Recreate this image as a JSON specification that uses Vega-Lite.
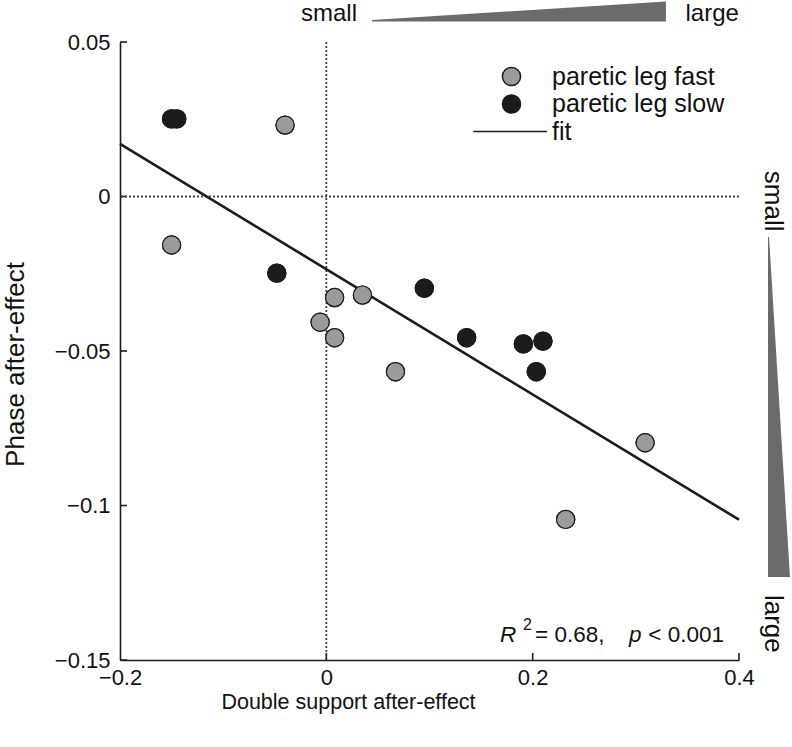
{
  "$schema": "https://vega.github.io/schema/vega-lite/v6.json",
  "width": 619,
  "height": 618,
  "autosize": {"type": "none"},
  "padding": {"left": 120, "top": 42, "right": 53, "bottom": 87},
  "background": "white",
  "data": {"values": [{}]},
  "config": {
    "view": {"stroke": null},
    "font": "Liberation Sans",
    "text": {"font": "Liberation Sans", "color": "#111111"}
  },
  "datasets": {
    "points": [
      {"ds": -0.150, "phase": -0.0157, "group": "paretic leg fast"},
      {"ds": -0.040, "phase": 0.0231, "group": "paretic leg fast"},
      {"ds": 0.008, "phase": -0.0327, "group": "paretic leg fast"},
      {"ds": -0.006, "phase": -0.0407, "group": "paretic leg fast"},
      {"ds": 0.008, "phase": -0.0457, "group": "paretic leg fast"},
      {"ds": 0.035, "phase": -0.0319, "group": "paretic leg fast"},
      {"ds": 0.067, "phase": -0.0567, "group": "paretic leg fast"},
      {"ds": 0.309, "phase": -0.0797, "group": "paretic leg fast"},
      {"ds": 0.232, "phase": -0.1045, "group": "paretic leg fast"},
      {"ds": -0.150, "phase": 0.0251, "group": "paretic leg slow"},
      {"ds": -0.145, "phase": 0.0251, "group": "paretic leg slow"},
      {"ds": -0.048, "phase": -0.0248, "group": "paretic leg slow"},
      {"ds": 0.095, "phase": -0.0297, "group": "paretic leg slow"},
      {"ds": 0.136, "phase": -0.0457, "group": "paretic leg slow"},
      {"ds": 0.191, "phase": -0.0477, "group": "paretic leg slow"},
      {"ds": 0.210, "phase": -0.0468, "group": "paretic leg slow"},
      {"ds": 0.2035, "phase": -0.0567, "group": "paretic leg slow"}
    ],
    "fit": [
      {"ds": -0.2, "phase": 0.0170},
      {"ds": 0.4, "phase": -0.1046}
    ],
    "wedgeTop": [
      {"ds": 0.0443, "low": 0.0566, "high": 0.0571},
      {"ds": 0.3292, "low": 0.0566, "high": 0.0631}
    ],
    "wedgeRight": [
      {"phase": -0.0131, "left": 0.4281, "right": 0.4291},
      {"phase": -0.1231, "left": 0.4281, "right": 0.4494}
    ],
    "yTicks": [{"t": 0.05}, {"t": 0}, {"t": -0.05}, {"t": -0.1}, {"t": -0.15}],
    "xTicks": [{"t": 0}, {"t": 0.2}, {"t": 0.4}]
  },
  "layer": [
    {
      "data": {"name": "points"},
      "mark": {"type": "point", "filled": true, "size": 330, "stroke": "#1c1c1c", "strokeWidth": 1.2, "opacity": 1},
      "encoding": {
        "x": {
          "field": "ds", "type": "quantitative",
          "scale": {"domain": [-0.2, 0.4], "nice": false, "zero": false},
          "axis": {
            "values": [-0.2, 0, 0.2, 0.4], "format": "~g", "grid": false, "ticks": false,
            "domainColor": "#1c1c1c", "domainWidth": 1.6,
            "labelFont": "Liberation Sans", "labelFontSize": 22, "labelColor": "#111111", "labelPadding": 7, "labelFlush": false,
            "title": "Double support after-effect", "titleFont": "Liberation Sans", "titleFontSize": 21.5, "titleFontWeight": "normal", "titleColor": "#111111",
            "titleX": 228, "titleY": 31, "titleBaseline": "top", "titleAlign": "center"
          }
        },
        "y": {
          "field": "phase", "type": "quantitative",
          "scale": {"domain": [-0.15, 0.05], "nice": false, "zero": false},
          "axis": {
            "values": [0.05, 0, -0.05, -0.1, -0.15], "format": "~g", "grid": false, "ticks": false,
            "domainColor": "#1c1c1c", "domainWidth": 1.6,
            "labelFont": "Liberation Sans", "labelFontSize": 22, "labelColor": "#111111", "labelPadding": 10, "labelFlush": false,
            "title": "Phase after-effect", "titleFont": "Liberation Sans", "titleFontSize": 26, "titleFontWeight": "normal", "titleColor": "#111111",
            "titleX": -118, "titleY": 322, "titleBaseline": "top", "titleAlign": "center", "titleAngle": -90
          }
        },
        "fill": {
          "field": "group", "type": "nominal",
          "scale": {"domain": ["paretic leg fast", "paretic leg slow", "fit"], "range": ["#9b9b9b", "#1c1c1c", "#1c1c1c"]},
          "legend": {
            "title": null, "orient": "none", "legendX": 379, "legendY": 22, "padding": 0,
            "symbolSize": 330, "labelFont": "Liberation Sans", "labelFontSize": 25, "labelColor": "#111111",
            "labelOffset": 28, "rowPadding": 1.5, "labelLimit": 400,
            "encode": {"symbols": {
              "stroke": {"value": "#1c1c1c"},
              "strokeWidth": {"condition": {"test": "datum.value === 'fit'", "value": 2.6}, "value": 1.2}
            }}
          }
        },
        "shape": {
          "field": "group", "type": "nominal",
          "scale": {"domain": ["paretic leg fast", "paretic leg slow", "fit"], "range": ["circle", "circle", "M-4.2,0H3.9"]},
          "legend": {
            "title": null, "orient": "none", "legendX": 379, "legendY": 22, "padding": 0,
            "symbolSize": 330, "labelFont": "Liberation Sans", "labelFontSize": 25, "labelColor": "#111111",
            "labelOffset": 28, "rowPadding": 1.5, "labelLimit": 400,
            "encode": {"symbols": {
              "stroke": {"value": "#1c1c1c"},
              "strokeWidth": {"condition": {"test": "datum.value === 'fit'", "value": 2.6}, "value": 1.2}
            }}
          }
        }
      }
    },
    {
      "data": {"name": "yTicks"},
      "mark": {"type": "rule", "color": "#1c1c1c", "strokeWidth": 1.6},
      "encoding": {
        "y": {"field": "t", "type": "quantitative"},
        "x": {"datum": -0.2, "type": "quantitative"},
        "x2": {"datum": -0.1932}
      }
    },
    {
      "data": {"name": "xTicks"},
      "mark": {"type": "rule", "color": "#1c1c1c", "strokeWidth": 1.6},
      "encoding": {
        "x": {"field": "t", "type": "quantitative"},
        "y": {"datum": -0.15, "type": "quantitative"},
        "y2": {"datum": -0.14773}
      }
    },
    {
      "mark": {"type": "rule", "color": "#444444", "strokeWidth": 1.8, "strokeDash": [2, 2]},
      "encoding": {
        "x": {"datum": 0, "type": "quantitative"}
      }
    },
    {
      "mark": {"type": "rule", "color": "#444444", "strokeWidth": 1.8, "strokeDash": [2, 2]},
      "encoding": {
        "y": {"datum": 0, "type": "quantitative"}
      }
    },
    {
      "data": {"name": "fit"},
      "mark": {"type": "line", "color": "#1c1c1c", "strokeWidth": 2.6},
      "encoding": {
        "x": {"field": "ds", "type": "quantitative"},
        "y": {"field": "phase", "type": "quantitative"}
      }
    },
    {
      "data": {"name": "points"},
      "mark": {"type": "point", "filled": true, "size": 330, "stroke": "#1c1c1c", "strokeWidth": 1.2, "opacity": 1},
      "encoding": {
        "x": {"field": "ds", "type": "quantitative"},
        "y": {"field": "phase", "type": "quantitative"},
        "fill": {"field": "group", "type": "nominal"},
        "shape": {"field": "group", "type": "nominal"}
      }
    },
    {
      "data": {"name": "wedgeTop"},
      "mark": {"type": "area", "color": "#6b6b6b", "clip": false},
      "encoding": {
        "x": {"field": "ds", "type": "quantitative"},
        "y": {"field": "low", "type": "quantitative"},
        "y2": {"field": "high"}
      }
    },
    {
      "data": {"name": "wedgeRight"},
      "mark": {"type": "area", "orient": "horizontal", "color": "#6b6b6b", "clip": false},
      "encoding": {
        "y": {"field": "phase", "type": "quantitative"},
        "x": {"field": "left", "type": "quantitative"},
        "x2": {"field": "right"}
      }
    },
    {
      "mark": {"type": "text", "text": "small", "fontSize": 24, "align": "center", "baseline": "alphabetic"},
      "encoding": {
        "x": {"datum": 0.0026, "type": "quantitative"},
        "y": {"datum": 0.0568, "type": "quantitative"}
      }
    },
    {
      "mark": {"type": "text", "text": "large", "fontSize": 24, "align": "center", "baseline": "alphabetic"},
      "encoding": {
        "x": {"datum": 0.3740, "type": "quantitative"},
        "y": {"datum": 0.0568, "type": "quantitative"}
      }
    },
    {
      "mark": {"type": "text", "text": "small", "fontSize": 26, "align": "center", "baseline": "middle", "angle": 90},
      "encoding": {
        "x": {"datum": 0.4330, "type": "quantitative"},
        "y": {"datum": -0.0015, "type": "quantitative"}
      }
    },
    {
      "mark": {"type": "text", "text": "large", "fontSize": 26, "align": "center", "baseline": "middle", "angle": 90},
      "encoding": {
        "x": {"datum": 0.4330, "type": "quantitative"},
        "y": {"datum": -0.1383, "type": "quantitative"}
      }
    },
    {
      "mark": {"type": "text", "text": "R", "fontSize": 22.5, "fontStyle": "italic", "align": "left", "baseline": "alphabetic"},
      "encoding": {
        "x": {"datum": 0.1683, "type": "quantitative"},
        "y": {"datum": -0.14417, "type": "quantitative"}
      }
    },
    {
      "mark": {"type": "text", "text": "2", "fontSize": 16, "align": "left", "baseline": "alphabetic"},
      "encoding": {
        "x": {"datum": 0.1906, "type": "quantitative"},
        "y": {"datum": -0.14029, "type": "quantitative"}
      }
    },
    {
      "mark": {"type": "text", "text": "= 0.68,", "fontSize": 22.5, "align": "left", "baseline": "alphabetic"},
      "encoding": {
        "x": {"datum": 0.2023, "type": "quantitative"},
        "y": {"datum": -0.14417, "type": "quantitative"}
      }
    },
    {
      "mark": {"type": "text", "text": "p", "fontSize": 22.5, "fontStyle": "italic", "align": "left", "baseline": "alphabetic"},
      "encoding": {
        "x": {"datum": 0.2933, "type": "quantitative"},
        "y": {"datum": -0.14417, "type": "quantitative"}
      }
    },
    {
      "mark": {"type": "text", "text": "< 0.001", "fontSize": 22.5, "align": "left", "baseline": "alphabetic"},
      "encoding": {
        "x": {"datum": 0.3121, "type": "quantitative"},
        "y": {"datum": -0.14417, "type": "quantitative"}
      }
    }
  ]
}
